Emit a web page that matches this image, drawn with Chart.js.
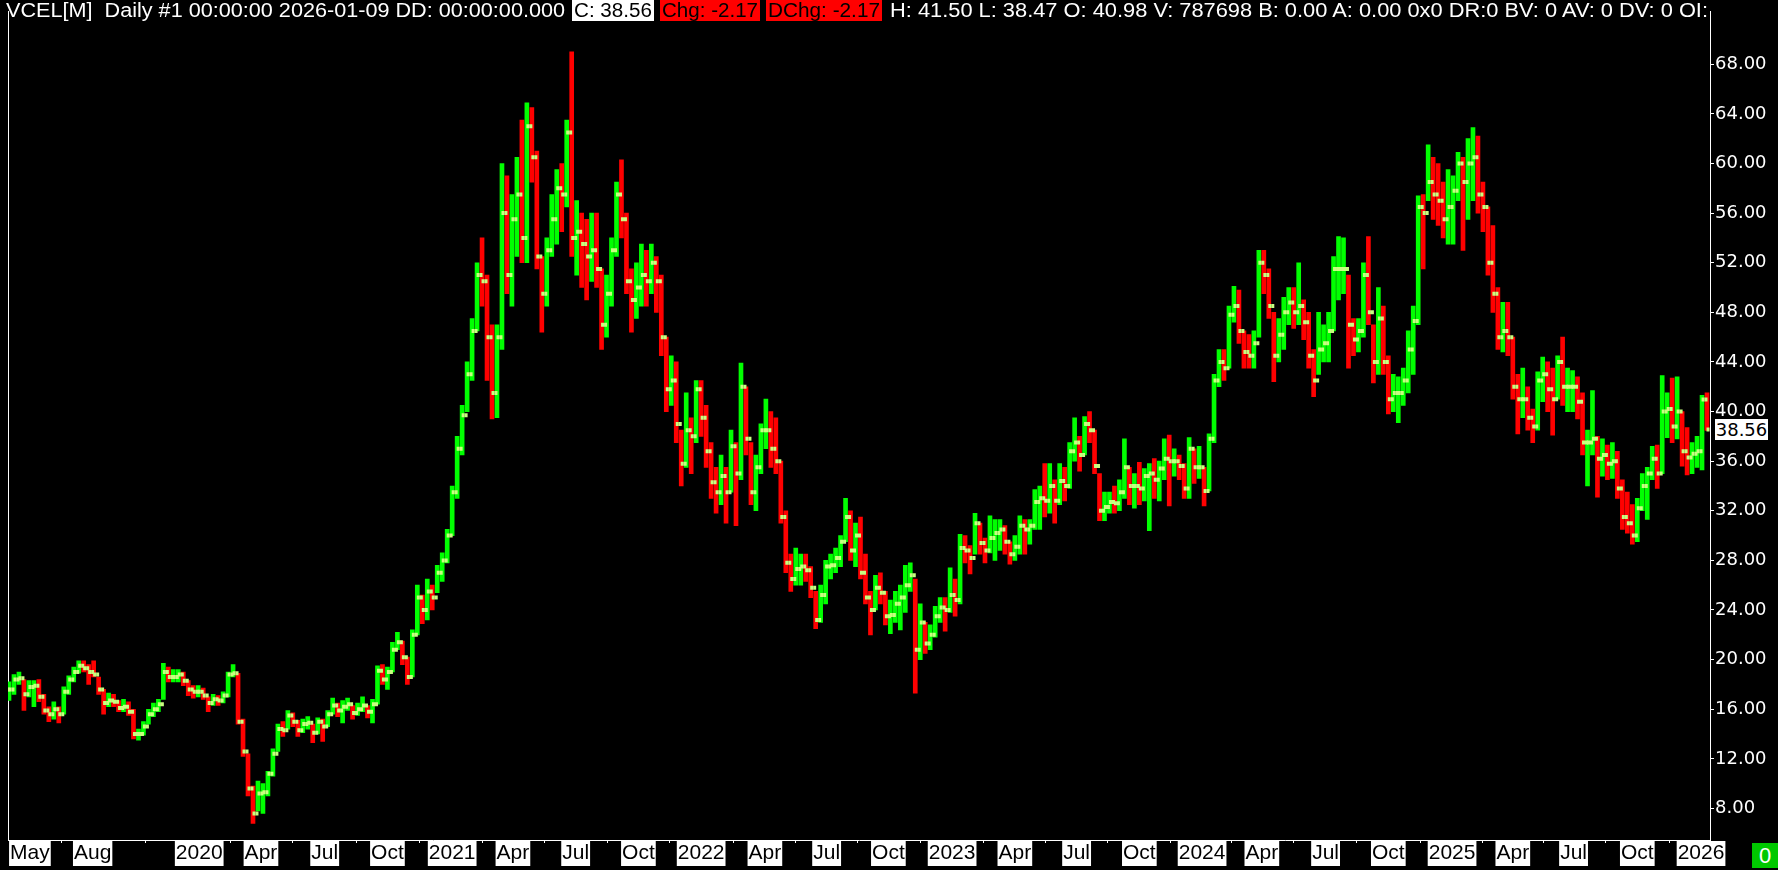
<!DOCTYPE html>
<html><head><meta charset="utf-8">
<script src="https://cdn.jsdelivr.net/npm/chart.js@4.4.1/dist/chart.umd.min.js"></script>
<style>
html,body{margin:0;padding:0;background:#000;overflow:hidden;}
#wrap{position:relative;width:1778px;height:870px;background:#000;}
#c{position:absolute;left:0;top:0;}
.hd{position:absolute;top:0;height:21px;line-height:21px;font-family:"Liberation Sans",Arial,sans-serif;font-size:20px;white-space:pre;overflow:hidden;}
.hd span{display:inline-block;transform-origin:0 0;}
#lastBox{position:absolute;left:1715px;width:53px;height:21px;line-height:21px;background:#fff;color:#000;font-family:"DejaVu Sans",sans-serif;font-size:18px;text-align:center;}
#zeroBox{position:absolute;left:1752px;top:843px;width:26px;height:25px;line-height:25px;background:#00c800;color:#fff;font-family:"Liberation Sans",sans-serif;font-size:22px;text-align:center;}
</style></head><body>
<div id="wrap">
<canvas id="c" width="1778" height="870"></canvas>
<div id="h1" class="hd" style="left:6px;width:566px;color:#fff;"><span>VCEL[M]  Daily #1 00:00:00 2026-01-09 DD: 00:00:00.000</span></div>
<div id="h2" class="hd" style="left:572px;width:82px;background:#fff;color:#000;"><span style="margin-left:2px">C: 38.56</span></div>
<div id="h3" class="hd" style="left:660px;width:100px;background:#ff0000;color:#000;"><span style="margin-left:2px">Chg: -2.17</span></div>
<div id="h4" class="hd" style="left:766px;width:116px;background:#ff0000;color:#000;"><span style="margin-left:2px">DChg: -2.17</span></div>
<div id="h5" class="hd" style="left:890px;width:820px;color:#fff;"><span>H: 41.50 L: 38.47 O: 40.98 V: 787698 B: 0.00 A: 0.00 0x0 DR:0 BV: 0 AV: 0 DV: 0 OI:</span></div>
<div id="lastBox">38.56</div>
<div id="zeroBox">0</div>
</div>
<script>
// ---- DATA (weekly bars; 5 trading days per bar) ----
const highs = [18.2,18.8,19.0,18.4,18.3,18.3,18.4,17.2,16.2,16.6,16.2,17.8,18.7,19.4,19.9,19.9,19.6,19.9,18.6,17.6,17.3,17.2,16.7,16.8,16.6,16.0,14.4,15.0,16.0,16.5,16.8,19.7,19.4,19.2,19.2,19.0,18.3,17.9,17.9,17.7,17.0,17.2,17.1,17.4,19.0,19.6,18.9,15.2,12.4,9.8,10.2,10.0,11.0,12.8,14.8,15.0,15.9,15.7,15.1,15.2,15.4,14.8,15.3,15.2,15.9,16.9,16.5,16.7,16.9,16.3,16.5,17.0,16.3,16.8,19.5,19.6,19.4,21.4,22.2,21.5,20.2,22.4,26.0,25.2,26.5,26.0,27.6,28.6,30.5,34.0,38.0,40.5,44.0,47.5,52.0,54.0,51.0,47.0,47.0,60.0,59.0,57.5,60.5,63.5,64.9,64.5,61.0,52.5,54.0,57.5,59.5,60.0,63.5,69.0,57.0,56.0,55.5,56.0,56.0,51.5,51.0,54.0,58.5,60.3,56.0,51.5,52.0,53.5,53.0,53.5,52.5,51.0,46.0,44.5,44.0,38.5,41.5,39.5,42.5,42.5,40.5,37.5,35.5,36.5,35.5,38.5,37.5,43.9,42.0,37.5,36.5,39.0,41.0,40.0,39.5,36.0,32.0,28.5,29.0,28.5,28.5,27.5,25.5,26.0,28.0,28.5,29.0,30.0,33.0,32.0,31.0,31.5,28.5,25.5,26.8,27.0,25.5,24.8,25.5,26.0,27.6,27.8,26.5,24.5,23.0,22.8,24.3,25.0,25.0,27.4,26.5,30.1,30.0,29.2,31.8,31.0,29.8,31.6,31.3,31.3,30.8,29.5,30.0,31.6,31.3,31.3,33.7,34.0,35.8,35.8,34.5,35.8,35.5,37.5,39.5,38.0,39.6,40.0,38.5,35.0,33.5,33.5,34.0,34.5,37.8,35.5,35.0,35.9,35.4,35.8,36.2,36.0,37.8,38.1,37.0,36.5,35.8,37.9,37.0,37.2,35.5,38.2,43.0,45.0,45.0,48.5,50.1,49.8,46.5,46.2,46.5,53.0,53.0,51.5,48.0,47.5,49.2,50.0,50.0,52.0,49.0,48.0,45.0,48.0,47.0,48.0,52.5,54.1,54.0,51.0,47.5,47.5,52.0,54.1,47.0,50.0,48.5,44.5,43.0,42.8,43.5,46.5,48.5,57.4,57.5,61.5,60.5,60.0,58.5,59.5,59.0,60.9,60.5,62.0,62.9,62.2,58.5,56.5,55.0,50.0,48.8,48.8,46.0,43.0,43.5,42.0,40.2,43.2,44.4,44.0,43.5,44.5,46.0,43.5,43.3,42.8,41.5,38.5,41.7,38.0,37.8,37.3,37.5,36.8,34.5,33.5,32.5,33.0,35.0,35.5,37.2,37.3,42.9,41.5,42.7,42.8,40.0,38.7,37.5,38.0,41.3,41.50];
const lows = [16.7,17.2,18.0,15.9,17.0,16.2,16.6,15.6,15.0,15.2,14.9,15.6,17.2,18.2,18.9,19.0,18.0,18.6,17.2,15.6,16.2,16.2,15.8,15.8,15.5,13.6,13.5,13.9,14.8,15.4,15.8,16.8,18.2,18.2,18.2,17.9,17.1,16.9,17.0,16.8,15.8,16.3,16.3,16.5,17.0,18.6,14.8,12.2,9.0,6.8,7.8,7.6,9.0,10.6,12.6,13.8,14.4,14.6,13.8,14.1,14.4,13.3,14.0,13.4,14.6,15.6,15.4,14.9,15.9,15.2,15.5,15.8,15.3,14.9,16.4,18.0,17.6,19.0,20.8,19.6,18.0,18.6,22.0,22.9,23.2,24.0,25.4,26.3,27.8,30.0,33.0,36.5,40.0,42.5,46.5,48.5,42.5,39.4,39.5,45.0,49.5,48.5,52.5,52.0,52.0,58.5,51.5,46.4,48.5,52.5,53.5,54.5,56.5,52.5,51.0,50.0,49.0,50.5,50.0,45.0,46.0,48.5,52.5,54.0,49.5,46.4,47.5,48.5,48.5,49.5,48.0,44.5,40.0,40.5,37.5,34.0,35.5,35.0,37.5,38.0,35.5,33.0,31.8,32.5,31.0,33.5,30.8,34.5,36.5,32.5,32.0,35.0,37.0,35.5,35.0,31.0,27.0,25.5,26.0,26.0,26.3,25.0,22.5,23.0,24.5,26.5,27.0,27.5,29.5,28.0,27.5,26.5,24.5,22.0,24.0,24.5,22.8,22.1,23.0,22.4,23.8,25.5,17.3,20.0,20.5,20.8,21.8,23.0,22.3,23.8,23.5,24.5,27.8,26.9,28.5,28.5,27.8,28.6,28.0,28.8,28.5,27.7,28.0,28.5,28.5,29.3,30.5,30.5,31.5,31.8,31.0,32.5,32.8,33.8,36.0,35.2,36.5,37.5,35.0,31.2,31.2,31.8,31.8,32.0,33.0,32.5,32.2,32.5,32.8,30.4,33.0,32.8,34.5,32.4,34.8,34.5,33.0,33.0,34.2,34.6,32.4,33.6,37.5,42.0,42.5,43.5,47.2,45.5,43.5,43.5,43.5,46.0,49.5,47.5,42.4,44.0,45.0,47.0,46.7,47.0,45.8,43.5,41.2,43.0,44.0,44.0,46.5,49.0,49.5,43.5,44.5,44.8,46.0,47.0,42.3,43.0,43.0,39.8,40.0,39.1,40.5,41.5,43.0,47.0,51.5,57.0,55.5,55.0,54.0,53.5,53.5,57.0,53.0,55.5,57.0,56.0,54.5,51.0,48.0,45.0,44.8,44.5,41.0,38.2,39.5,38.5,37.5,38.5,40.8,40.0,38.1,41.0,40.5,40.0,40.0,39.4,36.5,34.0,36.5,33.1,34.8,34.5,34.6,33.0,30.5,30.2,29.3,29.5,32.0,31.3,34.5,33.8,35.0,37.9,37.5,37.8,35.6,34.9,35.0,35.5,35.3,38.47];
const closes = [17.6,18.4,18.5,17.2,17.8,17.9,17.0,15.9,15.6,16.0,15.6,17.4,18.4,19.0,19.5,19.3,19.0,18.8,17.6,16.5,16.7,16.6,16.1,16.2,15.8,14.0,14.0,14.6,15.6,16.0,16.4,19.0,18.6,18.6,18.8,18.3,17.6,17.4,17.4,17.1,16.5,16.8,16.7,17.1,18.8,18.9,15.0,12.6,9.6,7.6,9.2,9.3,10.8,12.4,14.4,14.3,15.5,15.0,14.3,14.8,14.9,14.1,15.0,14.6,15.6,16.3,15.9,16.2,16.4,15.7,16.0,16.3,15.8,16.4,19.1,18.4,19.0,20.8,21.4,20.2,18.6,22.0,25.0,24.0,25.5,25.0,27.0,28.0,30.0,33.5,37.0,39.7,43.0,46.5,51.0,50.5,46.0,41.5,46.0,56.0,51.0,55.5,57.5,54.0,63.0,60.5,52.5,49.5,53.0,55.5,58.0,57.5,62.5,54.0,54.5,53.5,52.5,53.0,51.5,47.0,49.5,53.0,57.5,55.5,50.5,49.0,50.0,51.0,50.5,52.0,50.5,46.0,41.8,42.5,39.0,35.8,38.5,38.0,41.8,39.5,36.8,34.3,33.5,34.8,33.5,37.2,35.0,42.0,37.8,33.5,35.5,38.5,38.5,37.0,36.0,31.5,27.8,26.5,27.3,27.5,27.2,25.8,23.2,25.2,27.5,27.6,28.2,29.5,31.5,28.8,30.0,27.0,25.0,24.0,25.8,25.4,23.5,23.6,24.5,25.0,26.0,26.8,20.8,23.0,21.3,22.0,23.5,24.2,24.0,25.2,24.8,29.0,28.8,28.2,31.0,29.4,28.8,29.8,30.2,30.5,29.5,28.5,29.1,30.8,30.5,30.8,32.7,33.0,32.8,34.0,32.8,34.4,34.0,36.8,37.5,36.5,39.0,38.5,35.6,32.0,32.3,32.7,32.6,33.5,35.5,34.0,34.0,33.8,34.8,35.0,34.5,35.4,36.2,36.0,36.0,35.6,33.8,37.0,35.5,35.5,33.6,37.8,42.5,44.0,43.5,47.8,48.5,46.5,44.8,44.5,45.5,52.0,51.0,48.5,44.5,46.2,48.0,48.8,48.0,48.5,47.2,44.5,42.5,45.0,45.5,46.5,51.5,51.5,51.5,47.0,45.8,46.5,51.0,48.0,44.0,47.5,44.0,41.0,41.5,41.5,42.5,45.0,47.3,56.5,56.0,58.5,57.5,57.0,55.5,56.5,57.8,60.0,58.5,60.0,60.5,57.5,56.5,52.0,49.5,46.0,46.5,46.0,42.0,41.0,41.0,39.5,38.8,42.5,43.0,41.8,41.0,44.0,42.0,42.0,42.0,40.8,37.5,37.5,37.8,36.2,36.5,35.8,36.0,33.8,31.5,31.0,30.0,32.2,34.0,35.0,36.2,35.0,40.0,40.2,38.8,40.0,36.8,36.3,36.6,36.8,40.98,38.56];
const sessionsPerBar = 5;
// x-axis month marks, as trading-day numbers counted from the first bar
const tickDays   = [21,84,191,253,317,380,445,506,569,632,695,759,821,883,947,1010,1072,1135,1198,1258,1322,1385,1449,1510,1571,1635,1699];
const tickLabels = ['May','Aug','2020','Apr','Jul','Oct','2021','Apr','Jul','Oct','2022','Apr','Jul','Oct','2023','Apr','Jul','Oct','2024','Apr','Jul','Oct','2025','Apr','Jul','Oct','2026'];
const priceTicks = [8,12,16,20,24,28,32,36,40,44,48,52,56,60,64,68];

// ---- build ----
const UP = '#00ff00', DOWN = '#ff0000', TICK = '#c8ff80';
const barDays = closes.map((_, i) => i * sessionsPerBar);
const opens = closes.map((c, i) => i ? closes[i - 1] : c);
const barData = barDays.map((d, i) => ({x: d, y: [lows[i], highs[i]]}));
const barColors = closes.map((c, i) => c >= opens[i] ? UP : DOWN);
const closeTicks = barDays.map((d, i) => ({x: d + 1, y: closes[i]}));
const openTicks = barDays.map((d, i) => ({x: d - 1, y: opens[i]}));

const chart = new Chart(document.getElementById('c'), {
  type: 'bar',
  data: {
    datasets: [
      {type: 'bar', data: barData, backgroundColor: barColors, borderWidth: 0, barThickness: 4, grouped: false, order: 3, xAxisID: 'x', yAxisID: 'y'},
      {type: 'scatter', data: openTicks, pointStyle: 'line', pointRadius: 1.5, borderWidth: 4, borderColor: TICK, backgroundColor: TICK, order: 2, xAxisID: 'x', yAxisID: 'y'},
      {type: 'scatter', data: closeTicks, pointStyle: 'line', pointRadius: 1.5, borderWidth: 4, borderColor: TICK, backgroundColor: TICK, order: 1, xAxisID: 'x', yAxisID: 'y'}
    ]
  },
  options: {
    responsive: false, animation: false, devicePixelRatio: 1, events: [],
    layout: {padding: 0},
    plugins: {legend: {display: false}, tooltip: {enabled: false}, title: {display: false}},
    scales: {
      x: {
        type: 'linear', position: 'bottom', min: -1, max: 1708, offset: false,
        afterFit: s => { s.height = 30; },
        afterBuildTicks: s => { s.ticks = tickDays.map(v => ({value: v})); },
        grid: {display: true, drawOnChartArea: false, drawTicks: true, tickLength: 3, color: '#ffffff', lineWidth: 1},
        border: {display: true, color: '#ffffff', width: 1},
        ticks: {
          autoSkip: false, maxRotation: 0, minRotation: 0, padding: 0, color: '#000000',
          font: {family: '"Liberation Sans",Arial,sans-serif', size: 21, lineHeight: 1.0},
          showLabelBackdrop: true, backdropColor: '#ffffff', backdropPadding: {top: 2, bottom: 2, left: 1, right: 1},
          callback: (v, i) => tickLabels[i]
        }
      },
      y: {
        type: 'linear', position: 'right', min: 5.456, max: 72.23,
        afterFit: s => { s.width = 68; },
        afterBuildTicks: s => { s.ticks = priceTicks.map(v => ({value: v})); },
        grid: {display: true, drawOnChartArea: false, drawTicks: true, tickLength: 4, color: '#ffffff', lineWidth: 1},
        border: {display: true, color: '#ffffff', width: 1},
        ticks: {color: '#ffffff', padding: 1, font: {family: '"DejaVu Sans",sans-serif', size: 18}, callback: v => v.toFixed(2)}
      },
      yl: {
        type: 'linear', position: 'left', min: 0, max: 1,
        afterFit: s => { s.width = 1; },
        grid: {display: false},
        border: {display: true, color: '#ffffff', width: 1},
        ticks: {display: false}
      }
    }
  }
});

// last-price marker on the price axis
const yPix = chart.scales.y.getPixelForValue(closes[closes.length - 1]);
document.getElementById('lastBox').style.top = (Math.round(yPix) - 10) + 'px';

// fit header text widths
function fit(id, target) {
  const s = document.querySelector('#' + id + ' span');
  const w = s.getBoundingClientRect().width;
  if (w > 0) s.style.transform = 'scaleX(' + (target / w) + ')';
}
fit('h1', 559); fit('h2', 78); fit('h3', 96); fit('h4', 112); fit('h5', 818);
</script>
</body></html>
